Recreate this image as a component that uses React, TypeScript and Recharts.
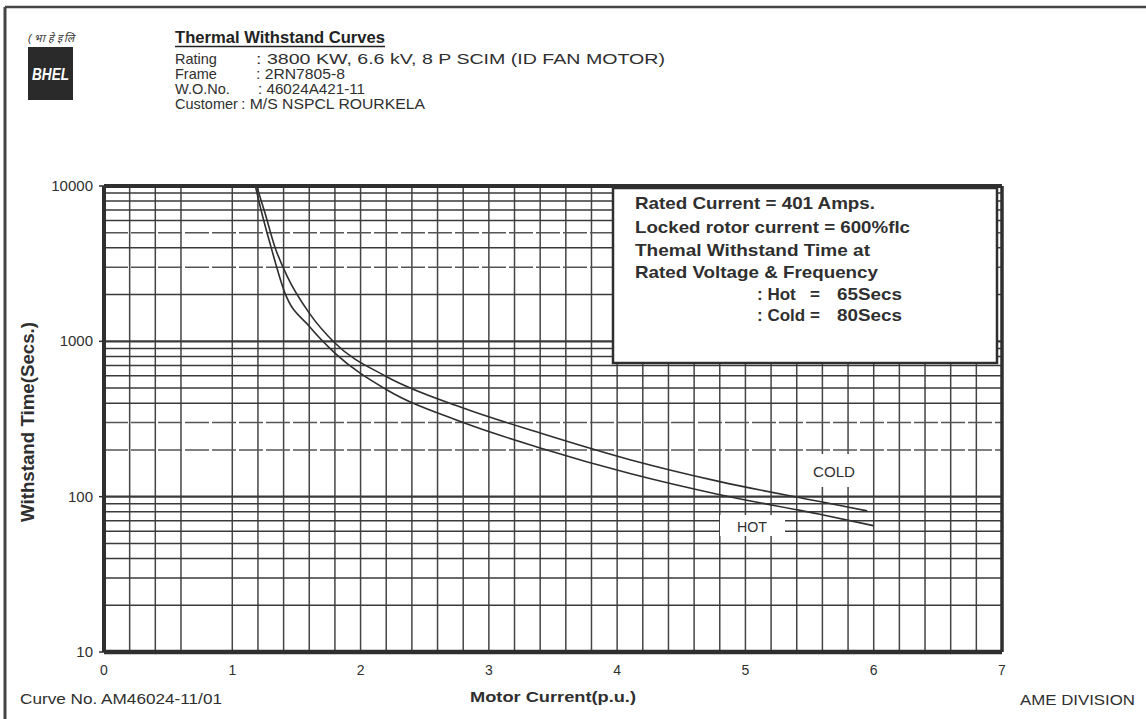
import React from 'react';
import { LineChart, Line, XAxis, YAxis, ReferenceLine } from 'recharts';

// axis values
const xLabels = [0, 1, 2, 3, 4, 5, 6, 7];
const yLabels = [10, 100, 1000, 10000];
const xGrid = [0.2, 0.4, 0.6, 1, 1.2, 1.4, 1.6, 1.8, 2, 2.2, 2.4, 2.6, 2.8, 3, 3.2, 3.4, 3.6, 3.8, 4, 4.2, 4.4, 4.6, 4.8, 5, 5.2, 5.4, 5.6, 5.8, 6, 6.2, 6.4, 6.6, 6.8];
const yGrid = [20, 30, 40, 50, 60, 70, 80, 90, 100, 200, 300, 400, 500, 600, 700, 800, 900, 1000, 2000, 3000, 4000, 5000, 6000, 7000, 8000, 9000];
const dashedY = [200, 300, 3000, 5000];

// withstand time (s) vs motor current (p.u.)
const hotCurve = [
  { x: 1.18, t: 10000 }, { x: 1.23, t: 6700 }, { x: 1.3, t: 4100 }, { x: 1.41, t: 2050 },
  { x: 1.6, t: 1250 }, { x: 1.8, t: 840 }, { x: 2.2, t: 490 }, { x: 2.8, t: 300 },
  { x: 3.4, t: 206 }, { x: 4.1, t: 141 }, { x: 4.8, t: 103 }, { x: 5.58, t: 77 }, { x: 6.0, t: 65 },
];
const coldCurve = [
  { x: 1.19, t: 10000 }, { x: 1.255, t: 6700 }, { x: 1.33, t: 4100 }, { x: 1.43, t: 2600 },
  { x: 1.6, t: 1520 }, { x: 1.8, t: 975 }, { x: 2.2, t: 594 }, { x: 2.8, t: 372 },
  { x: 3.4, t: 257 }, { x: 4.1, t: 173 }, { x: 4.8, t: 125 }, { x: 5.58, t: 93 }, { x: 5.95, t: 81 },
];

const headerRows = [
  { label: 'Rating', value: ': 3800 KW, 6.6 kV, 8 P SCIM (ID FAN MOTOR)' },
  { label: 'Frame', value: ': 2RN7805-8' },
  { label: 'W.O.No.', value: ': 46024A421-11' },
  { label: 'Customer', value: ': M/S NSPCL ROURKELA' },
];
const noteLines = ['Rated Current = 401 Amps.', 'Locked rotor current = 600%flc', 'Themal Withstand Time at', 'Rated Voltage & Frequency'];
const noteTimes = [{ label: ': Hot', value: '65Secs' }, { label: ': Cold', value: '80Secs' }];

const FONT = '"Liberation Sans", Arial, sans-serif';
const INK = '#2f2f2f';

// text layout tweaks (widths)
const rowValueX = [256, 256, 258, 241];
const rowValueLen = [409, 89, 107, 184];
const noteY = [209, 233, 256, 278];
const noteLen = [240, 275, 235, 243];

const YTick = (props: any) => {
  const { x, y, payload } = props;
  return (
    <g>
      <line x1={x - 5} x2={x} y1={y} y2={y} stroke={INK} strokeWidth={1.5} />
      <text x={x - 11} y={y + 5} textAnchor="end" fontSize={15} fill={INK} fontFamily={FONT}>{payload.value}</text>
    </g>
  );
};

const XTick = (props: any) => {
  const { x, y, payload } = props;
  return (
    <text x={x} y={y + 23} textAnchor="middle" fontSize={14} fill={INK} fontFamily={FONT}>{payload.value}</text>
  );
};

export default function App() {
  return (
    <div style={{ position: 'absolute', left: 0, top: 0, width: 1146, height: 719, background: '#fff', fontFamily: FONT }}>
      <LineChart width={1146} height={719} margin={{ top: 186, right: 144, bottom: 37, left: 44 }}>
        <XAxis dataKey="x" type="number" domain={[0, 7]} ticks={xLabels} tick={<XTick />} axisLine={false} tickLine={false} tickSize={0} tickMargin={0} height={30} allowDataOverflow />
        <YAxis scale="log" type="number" domain={[10, 10000]} ticks={yLabels} tick={<YTick />} axisLine={false} tickLine={false} tickSize={0} tickMargin={0} width={60} allowDataOverflow />
        {xGrid.map(v => (
          <ReferenceLine key={`gx${v}`} x={v} stroke="#454545" strokeWidth={1.5} />
        ))}
        {yGrid.map(v => (
          <ReferenceLine
            key={`gy${v}`}
            y={v}
            stroke={dashedY.includes(v) ? '#555' : '#3a3a3a'}
            strokeWidth={v === 100 || v === 1000 ? 2.2 : 1.5}
            strokeDasharray={dashedY.includes(v) ? '24 3' : undefined}
          />
        ))}
        <ReferenceLine x={0} stroke={INK} strokeWidth={4} />
        <ReferenceLine x={7} stroke={INK} strokeWidth={3.5} />
        <ReferenceLine y={10} stroke={INK} strokeWidth={4.5} />
        <ReferenceLine y={10000} stroke={INK} strokeWidth={4} />
        <Line data={hotCurve} dataKey="t" type="monotone" stroke={INK} strokeWidth={1.6} dot={false} isAnimationActive={false} />
        <Line data={coldCurve} dataKey="t" type="monotone" stroke={INK} strokeWidth={1.6} dot={false} isAnimationActive={false} />
      </LineChart>

      <svg width={1146} height={719} style={{ position: 'absolute', left: 0, top: 0, pointerEvents: 'none' }} fontFamily={FONT}>
        {/* page frame */}
        <line x1={5} y1={7} x2={1146} y2={7} stroke="#444" strokeWidth={2.5} />
        <line x1={5} y1={7} x2={5} y2={719} stroke="#444" strokeWidth={3} />

        {/* logo */}
        <text x={28} y={42} fontSize={11} fontStyle="italic" fill={INK} textLength={46} lengthAdjust="spacingAndGlyphs">( भा हे इ लि</text>
        <rect x={28} y={47} width={45} height={53} fill="#2a2a2a" />
        <text x={50.5} y={80} textAnchor="middle" fontSize={16} fontWeight="bold" fontStyle="italic" fill="#fff" textLength={37} lengthAdjust="spacingAndGlyphs">BHEL</text>

        {/* header */}
        <text x={175} y={43} fontSize={17} fontWeight="bold" fill="#222" textLength={210} lengthAdjust="spacingAndGlyphs">Thermal Withstand Curves</text>
        <line x1={175} x2={385} y1={46.5} y2={46.5} stroke="#222" strokeWidth={1.5} />
        {headerRows.map((r, i) => (
          <g key={r.label}>
            <text x={175} y={64 + i * 15} fontSize={14.5} fill={INK}>{r.label}</text>
            <text x={rowValueX[i]} y={64 + i * 15} fontSize={14.5} fill={INK} textLength={rowValueLen[i]} lengthAdjust="spacingAndGlyphs">{r.value}</text>
          </g>
        ))}

        {/* note box */}
        <rect x={613} y={188} width={384} height={175} fill="#fff" stroke={INK} strokeWidth={2.5} />
        {noteLines.map((s, i) => (
          <text key={s} x={635} y={noteY[i]} fontSize={17} fontWeight="bold" fill={INK} textLength={noteLen[i]} lengthAdjust="spacingAndGlyphs">{s}</text>
        ))}
        {noteTimes.map((r, i) => (
          <g key={r.label}>
            <text x={757} y={299.5 + i * 21.5} fontSize={17} fontWeight="bold" fill={INK}>{r.label}</text>
            <text x={810} y={299.5 + i * 21.5} fontSize={17} fontWeight="bold" fill={INK}>=</text>
            <text x={837} y={299.5 + i * 21.5} fontSize={17} fontWeight="bold" fill={INK} textLength={65} lengthAdjust="spacingAndGlyphs">{r.value}</text>
          </g>
        ))}

        {/* curve labels */}
        <rect x={806} y={454} width={57} height={33} fill="#fff" />
        <text x={834} y={477} textAnchor="middle" fontSize={14} fill={INK} textLength={42} lengthAdjust="spacingAndGlyphs">COLD</text>
        <rect x={720} y={515} width={65} height={21} fill="#fff" />
        <text x={752} y={531.5} textAnchor="middle" fontSize={14} fill={INK} textLength={30} lengthAdjust="spacingAndGlyphs">HOT</text>

        {/* axis titles */}
        <text x={34} y={422} transform="rotate(-90 34 422)" textAnchor="middle" fontSize={18} fontWeight="bold" fill={INK} textLength={200} lengthAdjust="spacingAndGlyphs">Withstand Time(Secs.)</text>
        <text x={553} y={702} textAnchor="middle" fontSize={15.5} fontWeight="bold" fill={INK} textLength={166} lengthAdjust="spacingAndGlyphs">Motor Current(p.u.)</text>

        {/* footer */}
        <text x={20} y={704} fontSize={14} fill={INK} textLength={202} lengthAdjust="spacingAndGlyphs">Curve No. AM46024-11/01</text>
        <text x={1020} y={705} fontSize={14} fill={INK} textLength={115} lengthAdjust="spacingAndGlyphs">AME DIVISION</text>
      </svg>
    </div>
  );
}
